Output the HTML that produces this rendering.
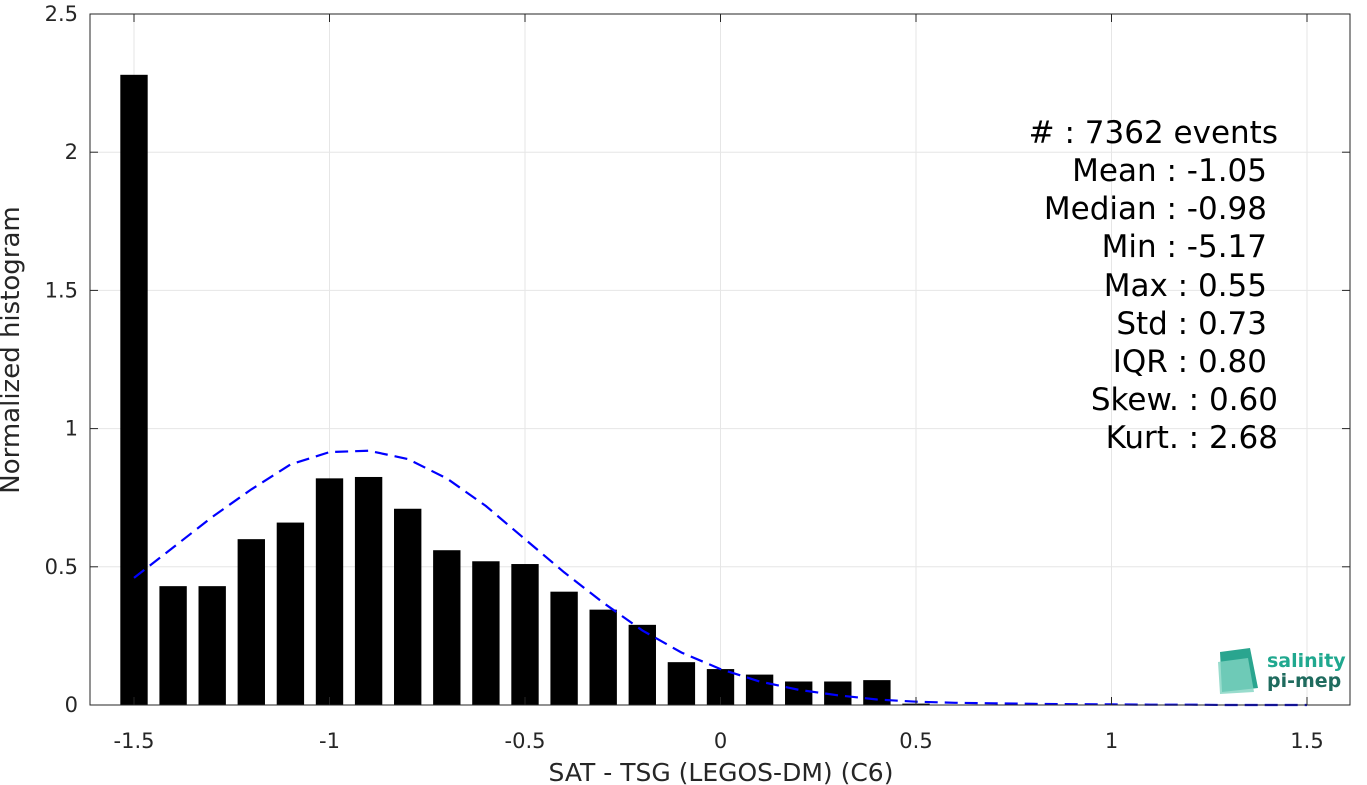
<!DOCTYPE html>
<html><head><meta charset="utf-8"><style>
body{margin:0;background:#fff;}
svg{display:block;font-family:"DejaVu Sans","Liberation Sans",sans-serif;}
</style></head><body>
<svg id="chart" width="1367" height="785" xmlns="http://www.w3.org/2000/svg">
<rect width="1367" height="785" fill="#fff"/>
<g id="grid"></g>
<g id="bars"></g>
<path id="curve" fill="none" stroke="#0000ff" stroke-width="2.2" stroke-dasharray="13,7"/>
<rect x="90" y="14" width="1260" height="691" fill="none" stroke="#262626" stroke-width="1"/>
<g id="ticks"></g>
<text x="721" y="781" text-anchor="middle" font-size="25" fill="#262626">SAT - TSG (LEGOS-DM) (C6)</text>
<text transform="translate(19,350) rotate(-90)" text-anchor="middle" font-size="26" fill="#262626">Normalized histogram</text>
<g font-size="31" fill="#000" text-anchor="end" xml:space="preserve">
<text x="1278" y="143">#  : 7362 events</text>
<text x="1267" y="181">Mean : -1.05</text>
<text x="1267" y="219">Median : -0.98</text>
<text x="1267" y="257">Min : -5.17</text>
<text x="1267" y="296">Max : 0.55</text>
<text x="1267" y="334">Std : 0.73</text>
<text x="1267" y="372">IQR : 0.80</text>
<text x="1278" y="410">Skew. : 0.60</text>
<text x="1278" y="448">Kurt. : 2.68</text>
</g>
<g>
<path d="M1220 652 L1250 648 L1258 688 L1222 692 Z" fill="#2aa58f"/>
<path d="M1218 662 L1248 658 L1254 692 L1220 694 Z" fill="#7fd3c0" opacity="0.8"/>
<text x="1267" y="667" font-size="19" font-weight="bold" fill="#20a88f">salinity</text>
<text x="1267" y="687" font-size="19" font-weight="bold" fill="#1f6b5e">pi-mep</text>
</g>
</svg>
<script>
const binCenters=[-1.5,-1.4,-1.3,-1.2,-1.1,-1.0,-0.9,-0.8,-0.7,-0.6,-0.5,-0.4,-0.3,-0.2,-0.1,0.0,0.1,0.2,0.3,0.4,0.5];
const binValues=[2.28,0.43,0.43,0.60,0.66,0.82,0.825,0.71,0.56,0.52,0.51,0.41,0.345,0.29,0.155,0.13,0.11,0.085,0.085,0.09,0.005];
const curveX=[-1.5,-1.4,-1.3,-1.2,-1.1,-1.0,-0.9,-0.8,-0.7,-0.6,-0.5,-0.4,-0.3,-0.2,-0.1,0.0,0.1,0.2,0.3,0.4,0.5,0.6,0.7,0.8,0.9,1.0,1.1,1.2,1.3,1.4,1.5];
const curveY=[0.46,0.57,0.68,0.78,0.87,0.915,0.92,0.89,0.82,0.72,0.60,0.48,0.37,0.27,0.19,0.13,0.085,0.055,0.035,0.02,0.012,0.008,0.006,0.004,0.003,0.002,0.001,0.001,0.0,0.0,0.0];
const xTicks=[-1.5,-1,-0.5,0,0.5,1,1.5];
const xTickLabels=["-1.5","-1","-0.5","0","0.5","1","1.5"];
const yTicks=[0,0.5,1,1.5,2,2.5];
const yTickLabels=["0","0.5","1","1.5","2","2.5"];
const NS="http://www.w3.org/2000/svg";
const xs=v=>134+(v+1.5)*391;
const ys=v=>705-v*276.4;
const grid=document.getElementById('grid'),bars=document.getElementById('bars'),ticks=document.getElementById('ticks');
function mk(t,a,p){const e=document.createElementNS(NS,t);for(const k in a)e.setAttribute(k,a[k]);p.appendChild(e);return e;}
xTicks.forEach((v,i)=>{
 const g=mk('line',{x1:xs(v),x2:xs(v),y1:14,y2:705,stroke:'#e6e6e6','stroke-width':1},grid);
 
 mk('line',{x1:xs(v),x2:xs(v),y1:705,y2:697,stroke:'#262626'},ticks);
 mk('line',{x1:xs(v),x2:xs(v),y1:14,y2:22,stroke:'#262626'},ticks);
 const t=mk('text',{x:xs(v),y:748,'text-anchor':'middle','font-size':21,fill:'#262626'},ticks);
 t.textContent=xTickLabels[i];
 
});
yTicks.forEach((v,i)=>{
 const g=mk('line',{x1:90,x2:1350,y1:ys(v),y2:ys(v),stroke:'#e6e6e6','stroke-width':1},grid);
 
 mk('line',{x1:90,x2:98,y1:ys(v),y2:ys(v),stroke:'#262626'},ticks);
 mk('line',{x1:1350,x2:1342,y1:ys(v),y2:ys(v),stroke:'#262626'},ticks);
 const t=mk('text',{x:78,y:ys(v)+7,'text-anchor':'end','font-size':21,fill:'#262626'},ticks);
 t.textContent=yTickLabels[i];
 
});
const bw=0.07*391;
binCenters.forEach((c,i)=>{
 const h=binValues[i]*276.4;
 const r=mk('rect',{x:xs(c)-bw/2,y:ys(binValues[i]),width:bw,height:Math.max(h,1),fill:'#000'},bars);
 
 
});
document.getElementById('curve').setAttribute('d',curveX.map((x,i)=>(i?'L':'M')+xs(x).toFixed(1)+' '+ys(curveY[i]).toFixed(1)).join(' '));
</script>
</body></html>
